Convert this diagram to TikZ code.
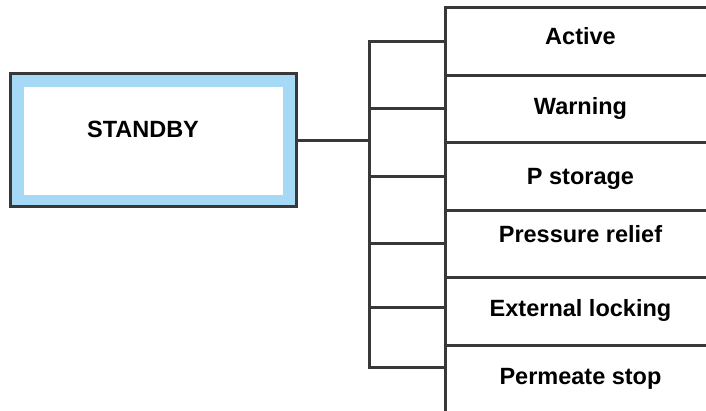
\documentclass[tikz,border=0pt]{standalone}
\usepackage{fontspec}
\setmainfont{Liberation Sans}
\usetikzlibrary{calc}
\definecolor{linegray}{RGB}{56,56,56}
\definecolor{bandblue}{RGB}{166,217,245}
\tikzset{
  px/.style={x=1pt,y=-1pt},
  conn/.style={draw=linegray,line width=3pt},
  outerbox/.style={rectangle,draw=linegray,line width=3pt,fill=bandblue,minimum width=286pt,minimum height=133pt,inner sep=0pt,outer sep=0pt},
  itembox/.style={rectangle,draw=linegray,line width=3pt,fill=white,minimum width=280pt,inner sep=0pt,outer sep=0pt,anchor=north west},
  lbl/.style={font=\bfseries\fontsize{23.5}{28}\selectfont,anchor=base,inner sep=0pt,text=black}
}
\begin{document}
\begin{tikzpicture}[px]
\useasboundingbox (0,0) rectangle (706,410);
\fill[white] (0,0) rectangle (706,410);
% STANDBY box
\node[outerbox] (standby) at (153.5,140) {};
\fill[white] (24,87) rectangle (283,195);
\node[lbl] (standbylbl) at (143,137.3) {STANDBY};
% item boxes
\node[itembox,minimum height=68pt] (b1) at (445.5,7.5) {};
\node[itembox,minimum height=67pt] (b2) at (445.5,75.5) {};
\node[itembox,minimum height=68pt] (b3) at (445.5,142.5) {};
\node[itembox,minimum height=67pt] (b4) at (445.5,210.5) {};
\node[itembox,minimum height=68pt] (b5) at (445.5,277.5) {};
\node[itembox,minimum height=68pt] (b6) at (445.5,345.5) {};
\node[lbl] (l1) at (580.5,44.3) {Active};
\node[lbl] (l2) at (580.5,114.3) {Warning};
\node[lbl] (l3) at (580.5,184.3) {P storage};
\node[lbl] (l4) at (580.5,242.7) {Pressure relief};
\node[lbl] (l5) at (580.5,316.7) {External locking};
\node[lbl] (l6) at (580.5,384.3) {Permeate stop};
% connectors
\coordinate (hub) at (369.5,140.5);
\coordinate (k1) at (369.5,41.5);
\coordinate (k2) at (369.5,108.5);
\coordinate (k3) at (369.5,176.5);
\coordinate (k4) at (369.5,243.5);
\coordinate (k5) at (369.5,307.5);
\coordinate (k6) at (369.5,367.5);
\draw[conn] (standby.east |- hub) -- (hub);
\draw[conn] (b1.west |- k1) -- (k1) -- (k6) -- (b6.west |- k6);
\draw[conn] (k2) -- (b2.west |- k2);
\draw[conn] (k3) -- (b3.west |- k3);
\draw[conn] (k4) -- (b4.west |- k4);
\draw[conn] (k5) -- (b5.west |- k5);
\end{tikzpicture}
\end{document}
